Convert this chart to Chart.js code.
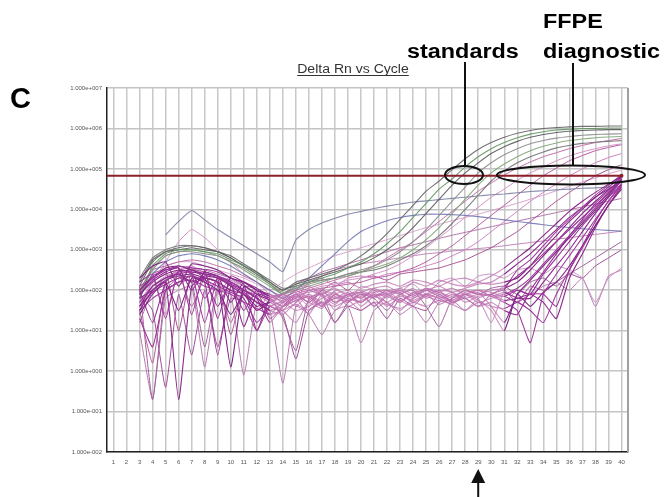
<!DOCTYPE html>
<html>
<head>
<meta charset="utf-8">
<title>Delta Rn vs Cycle</title>
<script src="https://cdn.jsdelivr.net/npm/chart.js@4.4.0/dist/chart.umd.min.js"></script>
<style>
  body { margin: 0; background: #fff; }
</style>
</head>
<body>
<canvas id="ampChart" width="667" height="497"></canvas>
<script>
// cycles on the x axis
const cycles = [];
for (let i = 1; i <= 40; i++) cycles.push(String(i));

// log10(Delta Rn), one value per cycle (1..40)
const threshold = 4.83;

// standards (grey / green)
const std1 = [null,null, 2.1,2.7,2.95,3.05,3.1,3.05,2.95,2.85,2.65,2.45,2.2, 2.0,2.2,2.3,2.4,2.5,2.65,2.85,3.1,3.4,3.75,4.1,4.45,4.7,4.98,5.25,5.48,5.65, 5.78,5.88,5.95,6.0,6.02,6.04,6.05,6.05,6.06,6.06];
const std2 = [null,null, 1.8,2.6,2.9,3.0,3.0,2.95,2.9,2.75,2.6,2.4,2.15, 1.9,2.1,2.2,2.3,2.4,2.55,2.7,2.9,3.15,3.45,3.8,4.15,4.5,4.75,5.05,5.3,5.5, 5.65,5.77,5.86,5.92,5.96,5.98,6.0,6.0,6.01,6.01];
const std3 = [null,null, 2.2,2.75,2.95,3.0,3.05,3.0,2.95,2.8,2.6,2.4,2.2, 2.0,2.15,2.25,2.35,2.45,2.55,2.65,2.8,3.0,3.25,3.55,3.9,4.25,4.6,4.9,5.15,5.38, 5.55,5.68,5.78,5.85,5.9,5.93,5.95,5.96,5.97,5.97];
const std4 = [null,null, 1.9,2.5,2.85,2.95,2.95,2.9,2.85,2.7,2.55,2.35,2.15, 1.95,2.05,2.15,2.25,2.3,2.4,2.5,2.6,2.75,2.95,3.2,3.5,3.85,4.2,4.55,4.9,5.15, 5.35,5.5,5.62,5.7,5.76,5.8,5.83,5.85,5.86,5.87];
const std5 = [null,null, 2.0,2.55,2.85,2.95,3.0,2.95,2.85,2.7,2.5,2.3,2.1, 1.9,2.0,2.1,2.2,2.3,2.35,2.45,2.55,2.65,2.8,3.0,3.25,3.55,3.9,4.25,4.6,4.9, 5.12,5.3,5.45,5.56,5.64,5.7,5.74,5.77,5.79,5.8];
const std6 = [null,null, 2.3,2.8,3.0,3.1,3.1,3.05,2.95,2.8,2.6,2.45,2.25, 2.05,2.1,2.2,2.25,2.3,2.4,2.45,2.5,2.6,2.75,2.9,3.1,3.35,3.65,4.0,4.35,4.7, 4.95,5.15,5.3,5.42,5.52,5.58,5.63,5.66,5.68,5.7];
const stdHigh = [null,null,null,null, 3.37,3.7,3.97,3.74,3.5,3.3,3.1,2.9,2.7, 2.46,3.24,3.5,3.66,3.78,3.88,3.95,4.02,4.08,4.13,4.18,4.21,4.24,4.27,4.3,4.33,4.36, 4.38,4.41,4.44,4.46,4.48,4.5,4.52,4.53,4.55,4.56];
const stdBlue = [null,null, 1.8,2.4,2.7,2.85,2.9,2.85,2.75,2.6,2.4,2.2,2.0, 1.8,2.0,2.3,2.6,2.9,3.2,3.45,3.6,3.72,3.8,3.85,3.88,3.88,3.87,3.85,3.82,3.78, 3.74,3.7,3.66,3.62,3.58,3.55,3.52,3.5,3.48,3.46];
const standardSeries = [std1, std2, std3, std4, std5, std6, stdHigh, stdBlue];
const standardColors = ["rgba(100,100,100,0.9)", "rgba(98,150,96,0.9)", "rgba(80,80,80,0.85)", "rgba(140,140,140,0.9)",
                        "rgba(128,165,118,0.9)", "rgba(115,115,115,0.9)", "rgba(124,130,164,0.9)", "rgba(106,112,176,0.85)"];

// FFPE diagnostic samples (pink / mauve)
const ffpe1 = [null,null, 2.0,2.5,2.6,2.7,2.75,2.7,2.6,2.5,2.35,2.2,2.0, 1.85,1.95,2.05,2.15,2.25,2.35,2.45,2.6,2.8,3.0,3.2,3.45,3.7,3.95,4.2,4.45,4.65, 4.85,5.02,5.17,5.3,5.4,5.5,5.58,5.65,5.7,5.75];
const ffpe2 = [null,null, 1.6,2.2,2.7,3.2,3.5,3.3,3.0,2.7,2.4,2.2,1.9, 1.7,1.9,2.0,2.1,2.15,2.25,2.3,2.4,2.5,2.65,2.85,3.05,3.3,3.55,3.8,4.05,4.3, 4.5,4.72,4.9,5.05,5.2,5.32,5.42,5.5,5.57,5.62];
const ffpe3 = [null,null, 1.5,0.2,2.2,2.4,1.6,2.3,2.2,1.2,2.0,1.8,1.6, 1.5,1.9,2.0,2.05,2.1,2.15,2.2,2.3,2.35,2.45,2.55,2.7,2.9,3.1,3.35,3.6,3.85, 4.1,4.35,4.6,4.83,5.02,5.2,5.33,5.45,5.53,5.6];
const ffpe4 = [null,null, 2.0,2.3,1.4,2.5,2.6,2.4,1.9,2.3,2.1,1.5,1.9, 1.7,1.8,2.2,2.3,2.1,2.3,2.35,2.3,2.4,2.45,2.5,2.6,2.7,2.85,3.0,3.2,3.45, 3.7,3.95,4.2,4.42,4.63,4.83,5.0,5.15,5.28,5.38];
const ffpe5 = [null,null, 1.8,2.4,2.5,1.0,2.5,2.45,2.3,0.9,2.1,2.0,1.3, 1.6,1.9,1.7,2.0,2.2,2.0,2.3,2.35,2.25,2.4,2.45,2.5,2.55,2.65,2.75,2.9,3.05, 3.25,3.45,3.7,3.95,4.2,4.42,4.63,4.83,4.98,5.1];
const ffpe6 = [null,null, 1.9,2.3,2.6,2.7,2.7,2.6,2.5,2.4,2.3,2.15,2.0, 2.2,2.4,2.55,2.7,2.85,2.95,3.05,3.15,3.25,3.35,3.45,3.55,3.63,3.72,3.8,3.88,3.97, 4.06,4.15,4.25,4.35,4.46,4.57,4.68,4.78,4.88,4.97];
const ffpe7 = [null,null, 1.2,2.0,2.3,2.5,2.55,2.5,2.4,2.3,2.1,1.9,1.7, 1.9,2.15,2.3,2.45,2.55,2.65,2.75,2.85,2.95,3.05,3.12,3.2,3.28,3.36,3.43,3.5,3.57, 3.64,3.71,3.78,3.85,3.92,3.99,4.06,4.13,4.2,4.27];
const ffpe8 = [null,null, 1.5,2.1,2.35,2.45,2.5,2.45,2.35,2.25,2.1,1.95,1.8, 1.9,2.05,2.2,2.35,2.5,2.58,2.65,2.7,2.75,2.8,2.85,2.9,2.93,2.97,3.0,3.03,3.06, 3.1,3.14,3.18,3.22,3.26,3.3,3.34,3.38,3.42,3.46];
const ffpeSeries = [ffpe1, ffpe2, ffpe3, ffpe4, ffpe5, ffpe6, ffpe7, ffpe8];
const ffpeColors = ["#c06aa8", "#d490c4", "#b45a9c", "#cc7fbf", "#a85090", "#d8a0cc", "#b070a8", "#c080b8"];

// late purple bundle converging on the threshold at cycle 40
const late1 = [null,null, 1.6,2.1,2.3,2.4,2.2,2.35,2.3,2.1,1.9,1.7,1.5, 1.4,1.7,1.85,1.6,1.9,2.0,1.8,2.05,2.1,1.95,2.2,2.1,2.25,2.15,2.1,2.2,2.35, 2.55,2.8,3.05,3.35,3.65,3.95,4.2,4.42,4.62,4.82];
const late2 = [null,null, 2.0,1.2,2.2,2.45,2.5,2.3,1.6,2.2,2.0,1.8,1.2, 1.6,1.8,1.4,1.9,1.7,1.85,1.95,1.6,1.9,2.0,1.85,2.05,1.95,1.8,2.0,1.9,1.9, 2.1,2.35,2.6,2.9,3.2,3.5,3.8,4.1,4.4,4.7];
const late3 = [null,null, 1.4,1.9,2.2,1.5,2.3,2.2,2.0,1.4,1.9,1.6,1.7, 1.5,1.2,1.75,1.9,1.5,1.8,1.7,1.9,1.6,1.85,1.75,1.9,2.0,1.7,1.85,1.95,1.6, 1.2,1.9,2.25,2.6,2.95,3.3,3.65,4.0,4.35,4.75];
const late4 = [null,null, 2.2,2.4,1.3,2.5,2.4,1.2,2.3,2.15,1.5,2.0,1.75, 1.9,2.0,1.8,1.6,2.0,1.9,1.7,1.95,2.0,1.75,1.9,2.05,1.9,1.75,1.95,2.0,1.85, 1.7,1.5,0.7,1.9,2.4,2.85,3.3,3.75,4.2,4.65];
const late5 = [null,null, 1.9,2.25,2.45,2.55,2.0,2.45,2.35,2.2,1.1,1.9,1.8, 1.6,1.85,1.95,2.0,1.7,1.9,1.95,1.8,2.0,1.9,1.7,1.85,2.0,1.95,1.8,1.9,1.85, 1.95,1.8,1.8,2.2,2.6,3.0,3.45,3.9,4.3,4.72];
const late6 = [null,null, 1.3,0.6,2.0,2.2,2.35,2.25,2.1,1.95,1.8,1.2,1.6, 1.7,1.5,1.6,1.8,1.95,1.6,1.75,1.85,1.7,1.5,1.8,1.9,1.65,1.8,1.9,1.7,1.8, 1.85,1.7,1.9,1.9,1.6,2.5,3.1,3.7,4.2,4.6];
const late7 = [null,null, 2.3,2.6,2.7,2.1,2.65,2.6,2.5,2.3,2.2,2.0,1.9, 1.8,2.0,2.1,1.9,2.1,2.2,2.05,2.15,2.2,2.1,2.25,2.2,2.1,2.25,2.3,2.2,2.15, 2.2,2.3,2.6,3.0,3.35,3.7,4.0,4.3,4.55,4.8];
const late8 = [null,null, 1.7,2.1,2.3,2.4,2.45,1.8,2.3,2.2,2.0,1.85,1.4, 1.7,1.85,1.7,1.55,1.9,1.75,1.85,1.95,1.7,1.9,1.8,2.0,1.85,1.7,1.9,1.8,1.2, 2.0,2.5,2.75,3.1,3.45,3.75,4.05,4.35,4.6,4.85];
const late9 = [null,null, 1.8,2.0,2.2,-0.7,2.1,2.3,2.2,2.0,1.9,1.5,1.7, 1.8,1.6,1.9,1.7,1.8,1.95,1.6,1.85,1.9,1.75,1.6,1.9,1.8,1.95,1.7,1.85,1.9, 1.75,1.8,1.9,1.7,1.3,2.3,2.9,3.55,4.1,4.55];
const late10 = [null,null, 2.0,2.35,2.5,2.6,2.55,2.5,1.3,2.35,2.2,2.05,1.85, 1.75,1.9,1.8,2.0,1.85,1.7,1.95,1.85,2.0,1.9,2.05,1.8,1.95,2.05,1.9,2.0,1.95, 1.85,2.0,1.9,2.4,2.8,3.2,3.6,3.95,4.3,4.62];
const late11 = [null,null, 1.5,2.0,2.25,2.35,2.4,2.3,2.2,0.1,2.1,1.9,1.75, 1.6,1.75,1.9,1.65,1.8,1.7,1.9,1.6,1.85,1.95,1.7,1.9,1.8,1.65,1.9,1.75,1.5, 1.0,1.9,1.6,1.95,2.2,2.6,3.1,3.6,4.1,4.5];
const late12 = [null,null, 2.1,2.3,2.5,2.55,1.4,2.5,2.45,2.3,2.15,1.0,1.8, 1.9,1.7,2.0,1.85,1.65,1.9,1.8,2.0,1.9,1.7,1.95,2.0,1.85,1.75,1.9,2.0,1.85, 1.9,2.05,2.3,2.65,3.0,3.35,3.7,4.05,4.4,4.75];
const late13 = [null,null, 1.9,2.2,2.4,2.5,2.45,2.4,2.3,2.15,2.0,1.8,1.6, 1.75,1.9,1.7,1.95,1.8,1.9,2.0,1.85,1.95,2.05,1.9,2.0,2.1,1.95,2.05,2.15,2.2, 2.4,2.65,2.9,3.2,3.5,3.8,4.05,4.3,4.5,4.7];
const late14 = [null,null, 1.6,1.95,2.15,2.3,2.35,2.2,0.4,2.1,1.95,1.7,1.5, 1.6,1.75,1.85,1.6,1.9,1.8,1.7,1.9,1.85,1.7,1.95,1.85,1.75,1.9,1.8,1.6,1.7, 1.5,1.4,2.0,2.45,2.9,3.35,3.75,4.15,4.45,4.78];
const late15 = [null,null, 2.0,2.3,2.55,2.6,2.5,2.4,2.35,1.7,2.2,2.0,1.85, 1.9,1.8,2.0,1.9,2.05,1.85,1.95,2.05,1.9,2.0,1.85,2.0,1.95,1.85,2.0,1.9,2.0, 2.05,2.2,2.5,2.85,3.2,3.55,3.9,4.2,4.48,4.72];
const late16 = [null,null, 1.5,1.8,2.0,2.2,2.25,2.1,2.0,1.9,1.7,1.55,1.4, 1.5,1.65,1.5,1.7,1.6,1.75,1.5,1.7,1.65,1.55,1.7,1.6,1.75,1.65,1.5,1.7,1.6, 1.55,1.7,1.5,1.2,1.9,2.5,3.05,3.6,4.1,4.6];
const lateSeries = [late1, late2, late3, late4, late5, late6, late7, late8, late9, late10, late11, late12, late13, late14, late15, late16];
const lateColors = ["#8b2a8b", "#962e96", "#7d2383", "#a0399e", "#8e2890", "#9c3498", "#842686", "#a23ca0",
                    "#8b2a8b", "#962e96", "#7d2383", "#a0399e", "#8e2890", "#9c3498", "#842686", "#a23ca0"];

// noisy wells that never amplify
const noise1 = [null,null, 1.7,2.2,2.4,2.1,2.45,2.4,2.2,2.3,2.0,1.9,1.5, 1.7,1.9,1.6,2.0,1.9,1.75,2.1,2.0,1.8,2.05,2.15,1.9,2.2,2.3,2.1,2.35,2.4, 2.3,2.5,2.55,2.4,2.6,2.5,2.3,1.7,2.3,2.55];
const noise2 = [null,null, 2.1,-0.7,2.0,2.3,2.2,0.6,2.1,2.0,1.7,1.0,1.8, 1.3,0.5,1.8,1.9,1.2,1.7,1.9,1.8,1.5,1.9,2.0,1.6,1.1,1.8,2.0,1.9,2.05, 2.1,1.9,2.2,2.3,2.1,2.4,2.6,2.8,3.0,3.2];
const noise3 = [null,null, 1.0,-0.7,1.8,2.0,2.1,0.1,2.0,1.9,-0.1,1.7,1.5, -0.3,1.6,1.4,0.9,1.5,1.6,0.7,1.5,1.7,1.4,1.6,1.2,1.7,1.75,1.5,1.8,1.9, 1.7,2.0,1.9,2.1,2.2,2.0,2.3,1.6,2.35,2.5];
const noise4 = [null,null, 1.9,1.5,-0.4,1.9,0.4,2.0,0.6,1.8,1.7,1.0,1.6, 1.4,0.3,1.5,1.7,1.2,1.6,1.5,1.7,1.3,1.8,1.6,1.5,1.9,1.7,1.8,1.6,1.9, 2.0,1.7,2.1,2.0,2.2,2.4,2.3,2.6,2.8,3.0];
const noiseSeries = [noise1, noise2, noise3, noise4];
const noiseColors = ["#c890c0", "#a0609a", "#b878b0", "#a04c98"];

function expLabel(v) {
  const sign = v < 0 ? "-" : "+";
  return "1.000e" + sign + String(Math.abs(v)).padStart(3, "0");
}

function makeSets(list, colors, width, flatColor) {
  return list.map((d, i) => ({
    data: d,
    borderColor: colors[i],
    borderWidth: width,
    pointRadius: 0,
    tension: 0.15,
    fill: false,
    // the flat middle stretch of the late wells looks paler in the original
    segment: flatColor ? {
      borderColor: s => (s.p0DataIndex >= 12 && s.p1DataIndex <= 30) ? flatColor : undefined
    } : undefined
  }));
}

// later datasets are drawn underneath earlier ones
const datasets = [].concat(
  makeSets(lateSeries, lateColors, 1.1, "rgba(190,110,175,0.75)"),
  makeSets(standardSeries, standardColors, 1.1),
  makeSets(ffpeSeries, ffpeColors, 1),
  makeSets(noiseSeries, noiseColors, 1)
);

function wideText(ctx, text, x, y, sx) {
  ctx.save();
  ctx.translate(x, y);
  ctx.scale(sx, 1);
  ctx.fillText(text, 0, 0);
  ctx.restore();
}

const thresholdLine = {
  id: "thresholdLine",
  afterDatasetsDraw(c) {
    const ctx = c.ctx, area = c.chartArea;
    const ty = c.scales.y.getPixelForValue(threshold);
    const endX = c.scales.x.getPixelForValue(39);
    ctx.save();
    ctx.strokeStyle = "#8b1f2a";
    ctx.lineWidth = 2;
    ctx.beginPath();
    ctx.moveTo(area.left, ty);
    ctx.lineTo(endX, ty);
    ctx.stroke();
    ctx.fillStyle = "#8b1f2a";
    ctx.beginPath();
    ctx.arc(endX, ty, 2, 0, Math.PI * 2);
    ctx.fill();
    ctx.restore();
  }
};

const annotations = {
  id: "annotations",
  afterDraw(c) {
    const ctx = c.ctx, area = c.chartArea;
    ctx.save();

    // right frame of the plot
    ctx.strokeStyle = "#a0a0a0";
    ctx.lineWidth = 2;
    ctx.beginPath();
    ctx.moveTo(area.right, area.top);
    ctx.lineTo(area.right, area.bottom);
    ctx.stroke();

    // title, underlined
    ctx.fillStyle = "#333";
    ctx.font = "12px 'Liberation Sans', Arial, sans-serif";
    ctx.textBaseline = "alphabetic";
    ctx.textAlign = "left";
    const title = "Delta Rn vs Cycle";
    const tw = ctx.measureText(title).width * 1.17;
    const tx = 353 - tw / 2;
    wideText(ctx, title, tx, 73, 1.17);
    ctx.strokeStyle = "#333";
    ctx.lineWidth = 1;
    ctx.beginPath();
    ctx.moveTo(tx, 75.5);
    ctx.lineTo(tx + tw, 75.5);
    ctx.stroke();

    // panel letter
    ctx.fillStyle = "#000";
    ctx.font = "bold 29px 'Liberation Sans', Arial, sans-serif";
    ctx.fillText("C", 10, 108);

    // labels for the two groups
    ctx.font = "bold 20px 'Liberation Sans', Arial, sans-serif";
    wideText(ctx, "standards", 407, 58, 1.17);
    wideText(ctx, "FFPE", 543, 28, 1.17);
    wideText(ctx, "diagnostic", 543, 58, 1.17);

    ctx.strokeStyle = "#111";
    ctx.lineWidth = 2;
    ctx.beginPath();
    ctx.moveTo(465, 62);
    ctx.lineTo(465, 166);
    ctx.moveTo(573, 63);
    ctx.lineTo(573, 165.5);
    ctx.stroke();

    ctx.beginPath();
    ctx.ellipse(464, 175, 19, 9, 0, 0, Math.PI * 2);
    ctx.stroke();
    ctx.beginPath();
    ctx.ellipse(571, 175, 74, 9.5, 0, 0, Math.PI * 2);
    ctx.stroke();

    // arrow under cycle 29
    const ax = c.scales.x.getPixelForValue(28);
    ctx.fillStyle = "#111";
    ctx.beginPath();
    ctx.moveTo(ax, 469);
    ctx.lineTo(ax - 7, 483);
    ctx.lineTo(ax + 7, 483);
    ctx.closePath();
    ctx.fill();
    ctx.fillRect(ax - 1, 482, 2, 15);

    ctx.restore();
  }
};

const tickFont = { family: "'Liberation Sans', Arial, sans-serif", size: 6 };

new Chart(document.getElementById("ampChart"), {
  type: "line",
  data: { labels: cycles, datasets },
  options: {
    responsive: false,
    animation: false,
    devicePixelRatio: 1,
    layout: { padding: { left: 0, top: 88, right: 39, bottom: 0 } },
    plugins: {
      legend: { display: false },
      title: { display: false },
      tooltip: { enabled: false }
    },
    scales: {
      x: {
        type: "category",
        offset: true,
        afterFit(s) { s.height = 45; },
        grid: { offset: false, color: "#c8c8c8", lineWidth: 1.5, drawTicks: false },
        border: { color: "#222", width: 1.5 },
        ticks: { font: tickFont, color: "#555", padding: 7, maxRotation: 0, autoSkip: false }
      },
      y: {
        type: "linear",
        min: -2,
        max: 7,
        afterFit(s) { s.width = 107; },
        grid: { color: "#c4c4c4", lineWidth: 1.5, drawTicks: false },
        border: { color: "#222", width: 1.5 },
        ticks: { stepSize: 1, font: tickFont, color: "#555", padding: 5, callback: v => expLabel(v) }
      }
    }
  },
  plugins: [thresholdLine, annotations]
});
</script>
</body>
</html>
